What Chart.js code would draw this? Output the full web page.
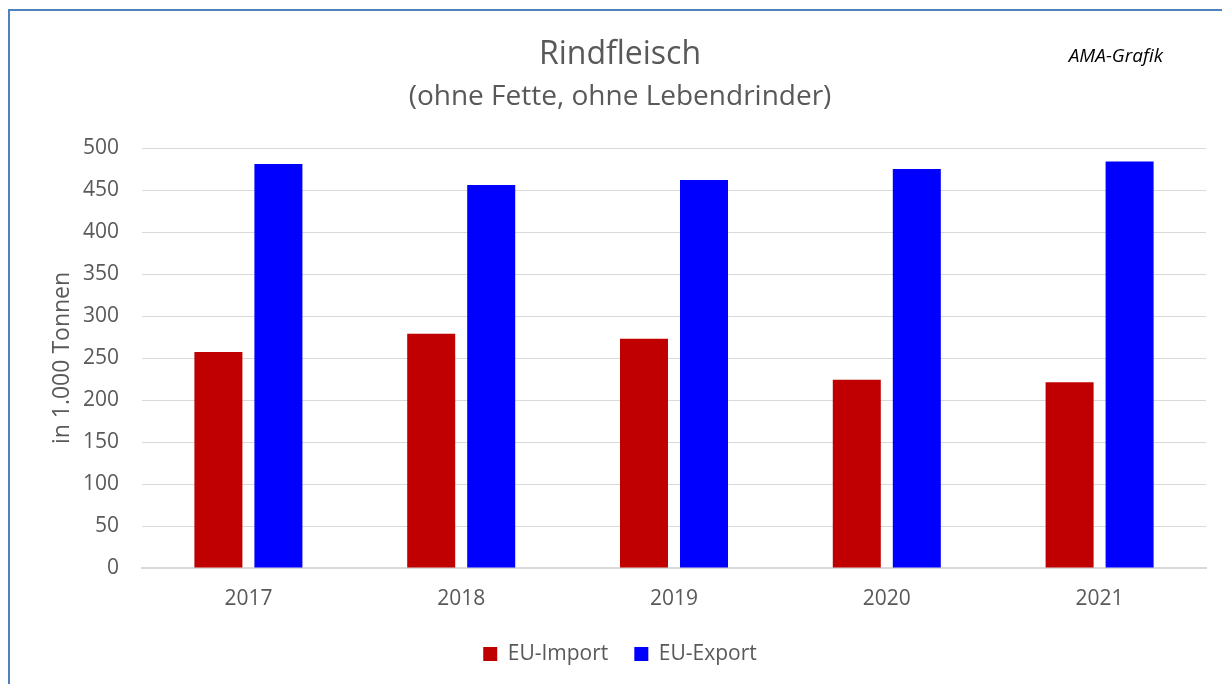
<!DOCTYPE html>
<html>
<head>
<meta charset="utf-8">
<script src="https://cdn.jsdelivr.net/npm/chart.js@4.4.1/dist/chart.umd.min.js"></script>
<style>
  html, body { margin: 0; padding: 0; background: #fff; }
  #wrap { width: 1222px; height: 684px; position: relative; }
</style>
</head>
<body>
<div id="wrap"><canvas id="chart" width="1222" height="684"></canvas></div>
<script>
const years = ['2017', '2018', '2019', '2020', '2021'];
const euImport = [257, 279, 273, 224, 221];
const euExport = [481, 456, 462, 475, 484];
const yTicks = [0, 50, 100, 150, 200, 250, 300, 350, 400, 450, 500];

const grey = '#595959';
const font = 'Open Sans';

// frame and the small "AMA-Grafik" note
const framePlugin = {
  id: 'frame',
  beforeDraw(chart) {
    const ctx = chart.ctx;
    ctx.save();
    ctx.fillStyle = '#fff';
    ctx.fillRect(0, 0, chart.width, chart.height);
    ctx.strokeStyle = '#4f81bd';
    ctx.lineWidth = 2;
    ctx.beginPath();
    ctx.moveTo(9, chart.height);
    ctx.lineTo(9, 10);
    ctx.lineTo(chart.width, 10);
    ctx.stroke();
    ctx.restore();
  },
  afterDraw(chart) {
    const ctx = chart.ctx;
    ctx.save();
    ctx.font = 'italic 19px "' + font + '"';
    ctx.fillStyle = '#000';
    ctx.textAlign = 'right';
    ctx.textBaseline = 'middle';
    ctx.fillText('AMA-Grafik', 1163, 57);
    ctx.restore();
  }
};

new Chart(document.getElementById('chart'), {
  type: 'bar',
  data: {
    labels: years,
    datasets: [
      { label: 'EU-Import', data: euImport, backgroundColor: '#c00000' },
      { label: 'EU-Export', data: euExport, backgroundColor: '#0000ff' }
    ]
  },
  options: {
    responsive: false,
    animation: false,
    categoryPercentage: 0.564,
    barPercentage: 0.8,
    layout: { padding: { left: 34, right: 16, top: 0, bottom: 9.5 } },
    plugins: {
      title: {
        display: true,
        text: 'Rindfleisch',
        color: grey,
        font: { family: font, size: 32, weight: 'normal' },
        padding: { top: 36, bottom: 0 }
      },
      subtitle: {
        display: true,
        text: '(ohne Fette, ohne Lebendrinder)',
        color: grey,
        font: { family: font, size: 28, weight: 'normal' },
        padding: { top: 5.8, bottom: 34.2 }
      },
      legend: {
        position: 'bottom',
        labels: {
          color: grey,
          font: { family: font, size: 21 },
          boxWidth: 14,
          boxHeight: 14,
          padding: 26
        }
      },
      tooltip: { enabled: false }
    },
    scales: {
      x: {
        grid: { display: false, drawTicks: false },
        border: { display: true, color: '#d9d9d9', width: 2 },
        ticks: { color: grey, font: { family: font, size: 21 }, padding: 18.4 },
        afterFit(scale) { scale.height = 49.5; }
      },
      y: {
        min: 0,
        max: 500,
        afterBuildTicks(scale) { scale.ticks = yTicks.map(v => ({ value: v })); },
        grid: { color: '#d9d9d9', lineWidth: 1, drawTicks: false },
        border: { display: false },
        ticks: { color: grey, font: { family: font, size: 21 }, padding: 23 },
        title: {
          display: true,
          text: 'in 1.000 Tonnen',
          color: grey,
          font: { family: font, size: 23 },
          padding: { top: 15, bottom: 0 }
        },
        afterFit(scale) { scale.width = 108; }
      }
    }
  },
  plugins: [framePlugin]
});
</script>
</body>
</html>
